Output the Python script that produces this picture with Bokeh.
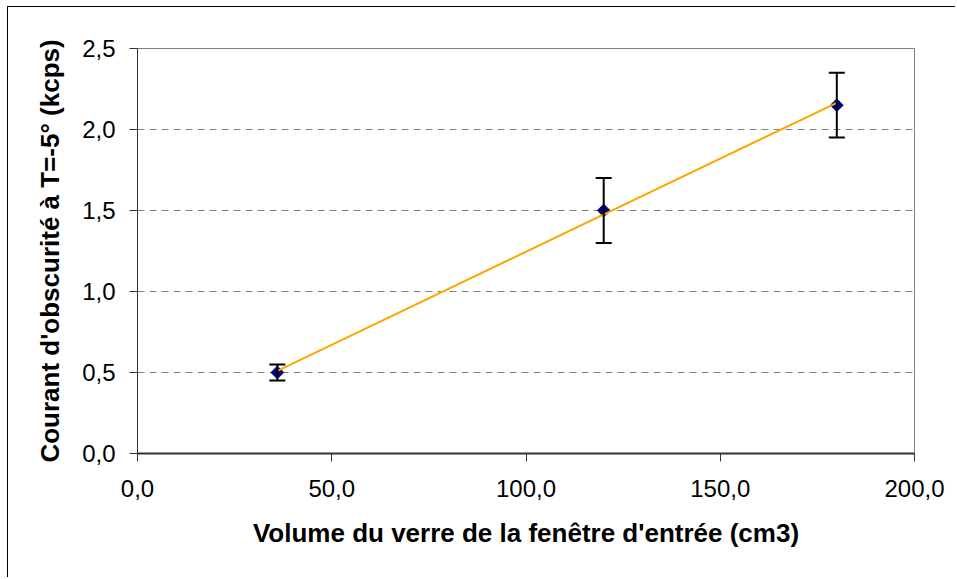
import numpy as np
from bokeh.plotting import figure
from bokeh.models import Range1d, FixedTicker, Whisker, TeeHead, ColumnDataSource
from bokeh.embed import file_html
from bokeh.resources import INLINE

# ---- data ----
volume = [36.0, 120.0, 180.0]          # cm3
courant = [0.50, 1.50, 2.15]           # kcps
erreur = [0.05, 0.20, 0.20]            # +/- error
x_ticks = [0, 50, 100, 150, 200]
x_labels = ["0,0", "50,0", "100,0", "150,0", "200,0"]
y_ticks = [0, 0.5, 1, 1.5, 2, 2.5]
y_labels = ["0,0", "0,5", "1,0", "1,5", "2,0", "2,5"]
x_title = "Volume du verre de la fenêtre d'entrée (cm3)"
y_title = "Courant d'obscurité à T=-5° (kcps)"

# linear trendline (least squares through the data)
slope, intercept = np.polyfit(volume, courant, 1)
trend_x = [min(volume), max(volume)]
trend_y = [slope * v + intercept for v in trend_x]

FONT = "Liberation Sans"

p = figure(width=948, height=571, output_backend="svg", toolbar_location=None,
           x_range=Range1d(0, 200), y_range=Range1d(0, 2.5),
           min_border_left=129, min_border_top=41, min_border_right=42, min_border_bottom=125)
p.styles = {"border-top": "1px solid #000000", "border-left": "1px solid #000000",
            "margin-left": "7px", "margin-top": "6px"}
p.background_fill_color = "white"
p.border_fill_color = "white"
p.outline_line_color = "#808080"
p.outline_line_width = 1

# grid
p.xgrid.visible = False
p.ygrid.ticker = FixedTicker(ticks=y_ticks)
p.ygrid.grid_line_color = "#808080"
p.ygrid.grid_line_dash = "7 5"
p.ygrid.grid_line_width = 1

# axes
for ax, ticks, labels in ((p.xaxis[0], x_ticks, x_labels), (p.yaxis[0], y_ticks, y_labels)):
    ax.ticker = FixedTicker(ticks=ticks)
    ax.major_label_overrides = {t: l for t, l in zip(ticks, labels)}
    ax.major_label_text_font = FONT
    ax.major_label_text_font_size = "24px"
    ax.major_label_text_color = "black"
    ax.axis_label_text_font = FONT
    ax.axis_label_text_font_size = "26px"
    ax.axis_label_text_font_style = "bold"
    ax.axis_label_text_color = "black"
    ax.major_tick_in = 0
    ax.major_tick_out = 8
    ax.minor_tick_line_color = None
    ax.axis_line_color = "#333333"
    ax.major_tick_line_color = "#333333"

p.xaxis.axis_label = x_title
p.yaxis.axis_label = y_title
p.xaxis.axis_line_width = 2
p.yaxis.axis_line_width = 1
p.xaxis.major_label_standoff = 18
p.xaxis.axis_label_standoff = 18
p.yaxis.major_label_standoff = 14
p.yaxis.axis_label_standoff = 14
p.yaxis.major_label_orientation = "horizontal"

# error bars
src = ColumnDataSource(dict(
    x=volume,
    upper=[c + e for c, e in zip(courant, erreur)],
    lower=[c - e for c, e in zip(courant, erreur)],
))
w = Whisker(base="x", upper="upper", lower="lower", source=src, dimension="height",
            upper_head=TeeHead(size=16, line_width=2, line_color="black"),
            lower_head=TeeHead(size=16, line_width=2, line_color="black"),
            line_color="black", line_width=2, level="glyph")
p.add_layout(w)

# markers
p.scatter(volume, courant, marker="square", size=9, angle=np.pi / 4,
          fill_color="#000080", line_color="#000080")

# trendline
p.line(trend_x, trend_y, line_color="#FFA500", line_width=2)

open("out.html", "w").write(file_html(p, INLINE))
